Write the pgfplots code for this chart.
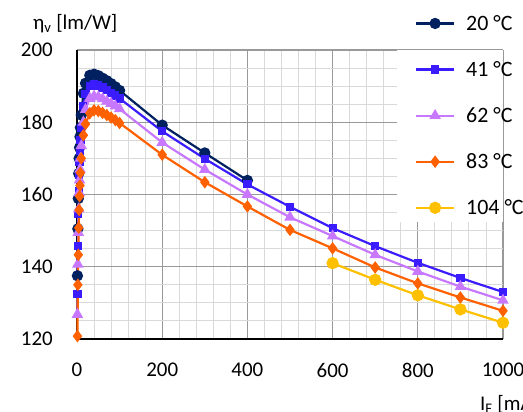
\documentclass[border=0pt]{standalone}
\usepackage{pgfplots}
\pgfplotsset{compat=1.18}
\usepackage{fontspec}
\setmainfont{Carlito}
\usetikzlibrary{calc}
\definecolor{c20}{HTML}{002060}
\definecolor{c41}{HTML}{3A1CFF}
\definecolor{c62}{HTML}{C878FF}
\definecolor{c83}{HTML}{FF6000}
\definecolor{c104}{HTML}{FFC000}

\begin{document}
\begin{tikzpicture}
\begin{axis}[
    scale only axis, width=426bp, height=289bp,
    xmin=0, xmax=1000, ymin=120, ymax=200,
    xtick={0,200,...,1000}, ytick={120,140,...,200},
    minor x tick num=4, minor y tick num=3,
    grid=both,
    major grid style={black!40, line width=1.1bp},
    minor grid style={black!15, line width=0.9bp},
    major tick length=0pt, minor tick length=0pt,
    axis lines=left,
    axis line style={-, line width=1.5bp, black},
    clip=false,
    font=\fontsize{21}{25}\selectfont,
    /pgf/number format/assume math mode=true,
    /pgf/number format/1000 sep={},
    yticklabel style={inner sep=0pt, xshift=-24bp},
    xticklabel style={inner sep=0pt, yshift=-24bp},
    every axis y label/.style={at={(rel axis cs:0,1)}, anchor=west, inner sep=0pt, xshift=-44bp, yshift=26bp},
    every axis x label/.style={at={(rel axis cs:1,0)}, anchor=west, inner sep=0pt, xshift=-23bp, yshift=-65bp},
    ylabel={η\textsubscript{v} [lm/W]},
    xlabel={I\textsubscript{F} [mA]},
    legend image code/.code={\draw[mark repeat=2,mark phase=2,#1] plot coordinates {(0bp,0bp)(19bp,0bp)(38bp,0bp)};},
    legend style={draw=none, fill=none, at={(rel axis cs:0.793,1.121)}, anchor=north west,
        inner sep=0pt, row sep=29.6bp, column sep=11bp, nodes={inner sep=0pt},
        font=\fontsize{22}{26}\selectfont},
    legend cell align=left,
    every axis plot/.append style={line width=2.2bp},
]
\fill[white] (rel axis cs:0.751,0.405) rectangle (rel axis cs:1,1);

\addplot[c20, mark=*, mark size=4.5bp] coordinates {
(1,137.5) (2,150.5) (3,158.9) (4,165.8) (5,170) (6,173) (7,176) (8,178.5) (10,182) (15,188)
(20,190.8) (30,193) (40,193.3) (50,192.9) (60,192.2) (70,191.5) (80,190.7) (90,189.8) (100,188.8)
(200,179.2) (300,171.5) (400,163.9)};
\addlegendentry{20 °C}

\addplot[c41, mark=square*, mark size=3bp] coordinates {
(1,132.4) (2,145.8) (3,154.5) (4,161) (5,165.5) (6,169) (7,172) (8,175) (10,178.5) (15,184.5)
(20,187.8) (30,190) (40,190.5) (50,190.2) (60,189.6) (70,189) (80,188.2) (90,187.4) (100,186.6)
(200,177.5) (300,169.9) (400,162.8) (500,156.6) (600,150.7) (700,145.7) (800,141.1) (900,136.9) (1000,133.0)};
\addlegendentry{41 °C}

\addplot[c62, mark=triangle*, mark size=4.5bp] coordinates {
(1,126.8) (2,140.7) (3,149.5) (4,156) (5,160.5) (6,164) (7,167) (8,170) (10,173.5) (15,180)
(20,183.5) (30,186.6) (40,187.2) (50,187) (60,186.5) (70,185.8) (80,185.2) (90,184.5) (100,183.7)
(200,174.4) (300,166.9) (400,160) (500,153.7) (600,148.5) (700,143.3) (800,138.7) (900,134.5) (1000,130.7)};
\addlegendentry{62 °C}

\addplot[c83, mark=diamond*, mark size=4.5bp] coordinates {
(1,120.8) (2,135) (3,143.3) (4,150.8) (5,155.7) (6,159.5) (7,162.5) (8,166) (10,170) (15,176.4)
(20,179.5) (30,182.5) (40,183.3) (50,183.1) (60,182.6) (70,182) (80,181.3) (90,180.6) (100,179.8)
(200,171) (300,163.4) (400,156.7) (500,150.2) (600,145.1) (700,139.8) (800,135.4) (900,131.5) (1000,127.8)};
\addlegendentry{83 °C}

\addplot[c104, mark=*, mark size=5bp] coordinates {
(600,141.0) (700,136.4) (800,132.1) (900,128.2) (1000,124.5)};
\addlegendentry{104 °C}

\coordinate (bl) at (rel axis cs:0,0);
\end{axis}
\pgfresetboundingbox
\path[use as bounding box] ($(bl)+(-77bp,-73bp)$) rectangle ($(bl)+(446bp,339bp)$);
\end{tikzpicture}
\end{document}
